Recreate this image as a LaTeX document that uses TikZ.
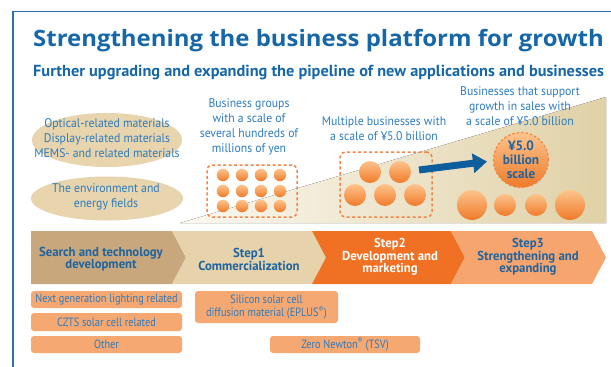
\documentclass[tikz,border=0pt]{standalone}
\usepackage{fontspec}
\setmainfont{PT Sans}
\newfontfamily\titlefont[FakeStretch=1.064]{Open Sans}
\newfontfamily\subfont[FakeStretch=1.02]{PT Sans}
\newfontfamily\bodyfont[FakeStretch=0.94]{PT Sans}
\newfontfamily\stepfont[FakeStretch=0.98]{PT Sans}
\newfontfamily\boxfont[FakeStretch=0.86]{PT Sans}
\usetikzlibrary{arrows.meta,shapes.geometric}

\definecolor{frameblue}{HTML}{2A6FB0}
\definecolor{headblue}{HTML}{1567A8}
\definecolor{textblue}{HTML}{2C7BBE}
\definecolor{stepblue}{HTML}{1E64A0}
\definecolor{arrowblue}{HTML}{0D5E9C}
\definecolor{tanfill}{HTML}{E8D5AD}
\definecolor{dashorange}{HTML}{F0864A}
\definecolor{ballhi}{HTML}{FDC48C}
\definecolor{balllo}{HTML}{F07A2A}
\definecolor{stepA}{HTML}{C8A77C}
\definecolor{stepB}{HTML}{E6D2AB}
\definecolor{stepC}{HTML}{F07124}
\definecolor{stepD}{HTML}{F6A56F}
\definecolor{boxfill}{HTML}{F6A872}
\definecolor{wedgelo}{HTML}{FBF8F1}
\definecolor{wedgehi}{HTML}{E0D1A6}

\tikzset{
  bodytext/.style={text=textblue, align=center, font=\bodyfont\fontsize{12.5}{15}\selectfont},
  tanellipse/.style={ellipse, fill=tanfill, inner sep=0pt},
  dashbox/.style={draw=dashorange, line width=1.5pt, dash pattern=on 3pt off 2.5pt,
                  rounded corners=5pt, inner sep=0pt},
  ball/.style={circle, inner sep=0pt, top color=ballhi, bottom color=balllo},
  steptext/.style={align=center, font=\stepfont\bfseries\fontsize{13}{12.5}\selectfont},
  obox/.style={fill=boxfill, rounded corners=3pt, inner sep=0pt, text=textblue,
               align=center, font=\boxfont\fontsize{12}{13.5}\selectfont},
  bigarrow/.style={arrowblue, line width=7pt,
                   -{Triangle[length=14pt, width=19pt]}}
}

\begin{document}
\begin{tikzpicture}[x=1pt, y=-1pt]
\useasboundingbox (0,0) rectangle (611,367);

% frame
\draw[frameblue, line width=1.5pt] (13,367) -- (13,11.5) -- (611,11.5);

% headings
\node[anchor=base west, inner sep=0pt, text=headblue,
      font=\titlefont\bfseries\fontsize{22.5}{26}\selectfont] (title) at (33,46.5)
  {Strengthening the business platform for growth};
\node[anchor=base west, inner sep=0pt, text=headblue,
      font=\subfont\bfseries\fontsize{16}{18}\selectfont] (subtitle) at (33,76)
  {Further upgrading and expanding the pipeline of new applications and businesses};

% rising growth wedge
\fill[left color=wedgelo, right color=wedgehi] (180,223) -- (606,97) -- (606,223) -- cycle;

% technology fields
\node[tanellipse, minimum width=150, minimum height=54] (fieldA) at (107,140) {};
\node[bodytext] (fieldAtxt) at (107,138)
  {Optical-related materials\\Display-related materials\\MEMS- and related materials};
\node[tanellipse, minimum width=152, minimum height=44] (fieldB) at (107,198.5) {};
\node[bodytext] (fieldBtxt) at (106,197)
  {The environment and\\energy fields};

% stage 1: many small businesses
\node[bodytext] (lblA) at (249,127) {Business groups\\with a scale of\\several hundreds of\\millions of yen};
\node[dashbox, minimum width=90, minimum height=52] (grpA) at (252,191) {};
\foreach \i/\x in {1/223,2/242,3/261,4/280}
  \foreach \j/\y in {1/175,2/191,3/206}
    \node[ball, minimum size=12.5] (sA\i\j) at (\x,\y) {};

% stage 2: several mid-size businesses
\node[bodytext] (lblB) at (384,129) {Multiple businesses with\\a scale of ¥5.0 billion};
\node[dashbox, minimum width=92, minimum height=65] (grpB) at (386,184.5) {};
\node[ball, minimum size=22] (sB1) at (370,172) {};
\node[ball, minimum size=22] (sB2) at (400,172) {};
\node[ball, minimum size=22] (sB3) at (355,195) {};
\node[ball, minimum size=22] (sB4) at (385,195) {};
\node[ball, minimum size=22] (sB5) at (415,195) {};

% stage 3: large businesses
\node[bodytext] (lblC) at (520,106) {Businesses that support\\growth in sales with\\a scale of ¥5.0 billion};
\node[ball, minimum size=55, draw=dashorange, line width=1.2pt, dash pattern=on 2.5pt off 2pt,
      text=stepblue, align=center, font=\stepfont\bfseries\fontsize{13.5}{14}\selectfont] (bigc) at (521,160)
  {¥5.0\\billion\\scale};
\node[ball, minimum size=30] (sC1) at (472,205) {};
\node[ball, minimum size=22] (sC2) at (505,205) {};
\node[ball, minimum size=22] (sC3) at (536,205) {};
\node[ball, minimum size=30] (sC4) at (570,205) {};

\coordinate (arrS) at (419,170);
\coordinate (arrE) at (487,161.5);
\draw[bigarrow] (arrS) -- (arrE);

% step chevrons
\fill[stepA] (31,231) -- (172,231) -- (186,257.5) -- (172,284) -- (31,284) -- cycle;
\fill[stepB] (172,231) -- (312,231) -- (326,257.5) -- (312,284) -- (172,284) -- (186,257.5) -- cycle;
\fill[stepC] (312,231) -- (451,231) -- (465,257.5) -- (451,284) -- (312,284) -- (326,257.5) -- cycle;
\fill[stepD] (451,231) -- (592,231) -- (606,257.5) -- (592,284) -- (451,284) -- (465,257.5) -- cycle;

\node[steptext, text=stepblue] (st0) at (101,259) {Search and technology\\development};
\node[steptext, text=stepblue] (st1) at (249,259.5) {Step1\\Commercialization};
\node[steptext, text=white] (st2) at (390,257) {Step2\\Development and\\marketing};
\node[steptext, text=stepblue] (st3) at (528,257) {Step3\\Strengthening and\\expanding};

% themes under the steps
\node[obox, minimum width=151, minimum height=17] (thA) at (106.5,299.5) {Next generation lighting related};
\node[obox, minimum width=151, minimum height=18] (thB) at (106.5,322) {CZTS solar cell related};
\node[obox, minimum width=151, minimum height=17] (thC) at (106.5,344.5) {Other};
\node[obox, minimum width=143, minimum height=32] (thD) at (266.5,307)
  {Silicon solar cell\\diffusion material (EPLUS\textsuperscript{®})};
\node[obox, minimum width=150, minimum height=17] (thE) at (345,344.5) {Zero Newton\textsuperscript{®} (TSV)};

\end{tikzpicture}
\end{document}
